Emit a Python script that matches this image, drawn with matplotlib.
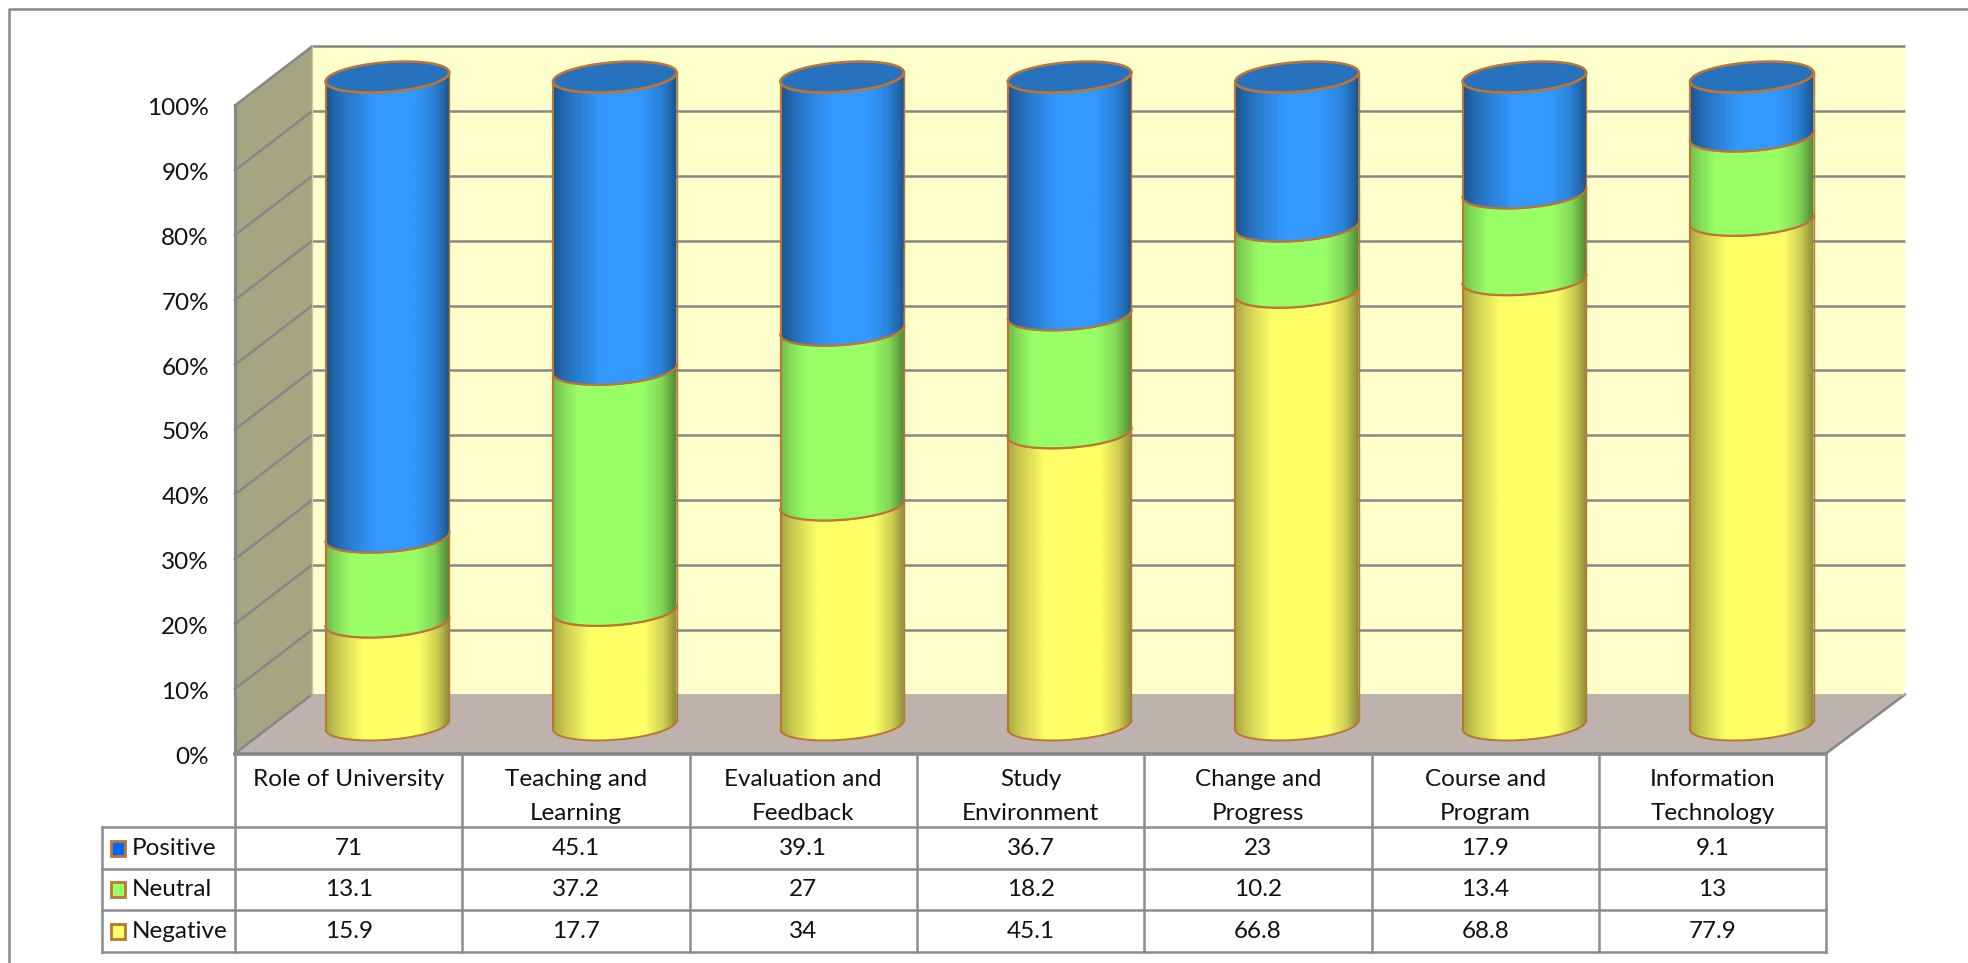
import numpy as np
import matplotlib
matplotlib.use("Agg")
import matplotlib.pyplot as plt
from matplotlib.patches import Polygon, PathPatch, Rectangle
from matplotlib.path import Path

categories = ["Role of University", "Teaching and\nLearning", "Evaluation and\nFeedback",
              "Study\nEnvironment", "Change and\nProgress", "Course and\nProgram",
              "Information\nTechnology"]
positive = [71, 45.1, 39.1, 36.7, 23, 17.9, 9.1]
neutral = [13.1, 37.2, 27, 18.2, 10.2, 13.4, 13]
negative = [15.9, 17.7, 34, 45.1, 66.8, 68.8, 77.9]
percent_ticks = [0, 10, 20, 30, 40, 50, 60, 70, 80, 90, 100]

WIDTH, HEIGHT = 1968, 963
COL_PX, PCT_PX = 227.4, 6.48      # pixels per category / per percent
X0_PX, Y0_PX = 387.4, 725.0       # pixel position of category 0 at 0 %

plt.rcParams["font.family"] = ["Lato", "DejaVu Sans"]
fig = plt.figure(figsize=(WIDTH / 100, HEIGHT / 100), dpi=100)
ax = fig.add_axes([0, 0, 1, 1])
ax.set_xlim(-X0_PX / COL_PX, (WIDTH - X0_PX) / COL_PX)
ax.set_ylim((Y0_PX - HEIGHT) / PCT_PX, Y0_PX / PCT_PX)
ax.axis("off")

# helpers converting pixel offsets to the category / percent scales
dx = lambda px: px / COL_PX
dy = lambda px: px / PCT_PX
xp = lambda px: (px - X0_PX) / COL_PX
yp = lambda px: (Y0_PX - px) / PCT_PX

GRID = "#868686"
WALL = "#FFFFCC"
SIDE = "#A5A582"
FLOOR = "#BDB2AE"
EDGE = "#BE7433"
TEXT = "#111111"
FONT = 17.5

# chart frame, open past the right and bottom of the canvas
ax.plot([xp(8.5), xp(8.5), xp(WIDTH + 5)], [yp(HEIGHT + 5), yp(9.5), yp(9.5)],
        color="#8E8E8E", lw=1.9, zorder=1)

# plot box: front-left corner, depth offset, widths
fx0, fx1 = xp(235), xp(1826)
bx0, bx1 = xp(312), xp(1905)
front0, back0 = yp(753.5), yp(694.5)

ax.add_patch(Polygon([(bx0, back0), (bx1, back0), (bx1, back0 + 100), (bx0, back0 + 100)],
                     facecolor=WALL, edgecolor="none", zorder=1))
ax.add_patch(Polygon([(fx0, front0), (bx0, back0), (bx0, back0 + 100), (fx0, front0 + 100)],
                     facecolor=SIDE, edgecolor="none", zorder=1))
ax.add_patch(Polygon([(fx0, front0), (fx1, front0), (bx1, back0), (bx0, back0)],
                     facecolor=FLOOR, edgecolor="none", zorder=1))

for t in percent_ticks[1:]:
    ax.plot([bx0, bx1], [back0 + t] * 2, color=GRID, lw=1.8, zorder=2, solid_capstyle="butt")
for t in percent_ticks:
    ax.plot([fx0, bx0], [front0 + t, back0 + t], color=GRID, lw=1.8, zorder=2)
ax.plot([fx0, fx0], [front0, front0 + 100], color=GRID, lw=2.2, zorder=2)
ax.plot([bx0, bx0], [back0, back0 + 100], color="#C8C8B0", lw=1.0, zorder=2)
ax.plot([fx0, fx1], [front0, front0], color=GRID, lw=2.6, zorder=2)
ax.plot([fx1, bx1], [front0, back0], color=GRID, lw=1.8, zorder=2)
ax.plot([bx0, bx1], [back0, back0], color="#B5B5A0", lw=1.2, zorder=2)

for t in percent_ticks:
    ax.text(xp(209), front0 + t - dy(3.5), f"{t}%", ha="right", va="center", fontsize=FONT,
            color=TEXT, zorder=6)

# cylinders
A, B, S = dx(61.7), dy(14.8), dy(4.5)
theta = np.linspace(np.pi, 2 * np.pi, 80)
shade_x = np.linspace(0, 1, 256)


def front_arc(cx, level):
    return cx + A * np.cos(theta), level + S * np.cos(theta) + B * np.sin(theta)


def segment(cx, v0, v1, base, profile, z):
    ax0, ay0 = front_arc(cx, v0)
    ax1, ay1 = front_arc(cx, v1)
    verts = np.r_[np.c_[ax1, ay1], np.c_[ax0, ay0][::-1], [[ax1[0], ay1[0]]]]
    row = np.interp(shade_x, profile[0], profile[1])
    img = np.clip(row[None, :, None] * np.array(base)[None, None, :], 0, 1)
    im = ax.imshow(img, extent=(cx - A, cx + A, v0 - 5, v1 + 5), aspect="auto",
                   interpolation="bilinear", zorder=z)
    clip = PathPatch(Path(verts), transform=ax.transData, facecolor="none", edgecolor="none")
    ax.add_patch(clip)
    im.set_clip_path(clip)
    ax.plot(ax1, ay1, color=EDGE, lw=1.8, zorder=z + 0.2)
    ax.plot(ax0, ay0, color=EDGE, lw=1.4, zorder=z + 0.1)
    ax.plot([cx - A, cx - A], [ay0[0], ay1[0]], color=EDGE, lw=1.5, zorder=z + 0.1)
    ax.plot([cx + A, cx + A], [ay0[-1], ay1[-1]], color=EDGE, lw=1.0, zorder=z + 0.1)


BLUE, GREEN, YELLOW = (0.2, 0.6, 1.0), (0.6, 1.0, 0.4), (1.0, 1.0, 0.4)
BLUE_SHADE = ([0, 0.06, 0.16, 0.40, 0.70, 0.86, 0.95, 1.0], [0.55, 0.65, 0.78, 1.0, 1.0, 0.86, 0.68, 0.52])
GREEN_SHADE = ([0, 0.08, 0.20, 0.72, 0.88, 1.0], [0.74, 0.86, 1.0, 1.0, 0.84, 0.52])
YELLOW_SHADE = ([0, 0.10, 0.30, 0.75, 0.90, 1.0], [0.66, 0.80, 1.0, 1.0, 0.80, 0.54])
for i in range(len(categories)):
    total = negative[i] + neutral[i] + positive[i]
    l1 = 100 * negative[i] / total
    l2 = l1 + 100 * neutral[i] / total
    segment(i, 0, l1, YELLOW, YELLOW_SHADE, 3)
    segment(i, l1, l2, GREEN, GREEN_SHADE, 4)
    segment(i, l2, 100, BLUE, BLUE_SHADE, 5)
    t = np.linspace(0, 2 * np.pi, 160)
    ax.add_patch(Polygon(np.c_[i + A * np.cos(t), 100 + S * np.cos(t) + B * np.sin(t)],
                         facecolor="#2672BE", edgecolor=EDGE, linewidth=1.8, zorder=5.5))

# data table
TBL = "#8C8C8C"
col_edges = [xp(235 + 227.3 * i) for i in range(8)]
col_mid = [(col_edges[i] + col_edges[i + 1]) / 2 for i in range(7)]
row_y = [yp(v) for v in (754, 827, 869, 910, 952)]
leg_x = xp(102)
for x in col_edges:
    ax.plot([x, x], [row_y[0], row_y[-1]], color=TBL, lw=1.8, zorder=2)
ax.plot([leg_x, leg_x], [row_y[1], row_y[-1]], color=TBL, lw=1.8, zorder=2)
for y in row_y[1:]:
    ax.plot([leg_x, col_edges[-1]], [y, y], color=TBL, lw=1.8, zorder=2)

for i, label in enumerate(categories):
    for n, line in enumerate(label.split("\n")):
        ax.text(col_mid[i], yp(780 + 33 * n), line, ha="center", va="center",
                fontsize=FONT, color=TEXT)

series = [("Positive", positive, "#0066FF"), ("Neutral", neutral, "#99FF66"),
          ("Negative", negative, "#FFFF66")]
for r, (name, values, colour) in enumerate(series):
    mid = (row_y[r + 1] + row_y[r + 2]) / 2
    ax.add_patch(Rectangle((xp(110.5), mid - dy(7.5)), dx(15), dy(15), facecolor=colour,
                           edgecolor=EDGE, linewidth=2.0, zorder=3))
    ax.text(xp(132), mid, name, ha="left", va="center", fontsize=FONT, color=TEXT)
    for i, v in enumerate(values):
        ax.text(col_mid[i], mid, f"{v:g}", ha="center", va="center", fontsize=FONT, color=TEXT)

fig.savefig("out.png", dpi=100, facecolor="white")
